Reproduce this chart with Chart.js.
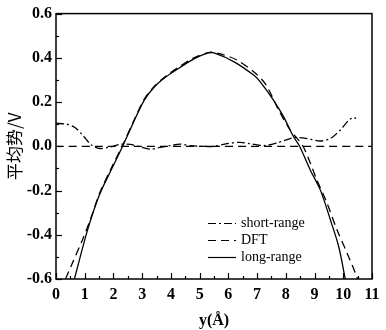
<!DOCTYPE html>
<html>
<head>
<meta charset="utf-8">
<script src="https://cdn.jsdelivr.net/npm/chart.js@4/dist/chart.umd.min.js"></script>
<style>
  html, body { margin: 0; padding: 0; background: #fff; }
  #wrap { width: 386px; height: 330px; }
</style>
</head>
<body>
<div id="wrap"><canvas id="c" width="386" height="330"></canvas></div>
<script>
// values
var shortX = [0, 0.37, 0.66, 0.95, 1.24, 1.53, 1.88, 2.23, 2.58, 2.93, 3.29, 3.62, 3.97, 4.32, 4.67, 5.02, 5.48, 5.95, 6.41, 6.76, 7.22, 7.69, 8.15, 8.39, 8.73, 9.2, 9.55, 9.9, 10.19, 10.36, 10.45];
var shortY = [0.104, 0.10, 0.085, 0.047, 0.005, -0.01, -0.003, 0.009, 0.009, -0.003, -0.013, -0.005, 0.003, 0.01, 0.003, 0, 0, 0.012, 0.018, 0.012, 0.003, 0.015, 0.035, 0.04, 0.035, 0.024, 0.035, 0.074, 0.118, 0.13, 0.126];

var dftX = [0.33, 0.52, 0.93, 1.2, 1.51, 1.92, 2.32, 2.73, 3.08, 3.43, 3.83, 4.3, 4.8, 5.35, 5.8, 6.3, 6.9, 7.3, 7.75, 8.15, 8.6, 9.08, 9.43, 9.78, 10.13, 10.42, 10.5];
var dftY = [-0.6, -0.543, -0.42, -0.33, -0.215, -0.1, 0.005, 0.122, 0.215, 0.272, 0.318, 0.36, 0.4, 0.425, 0.415, 0.39, 0.335, 0.28, 0.164, 0.074, 0, -0.152, -0.256, -0.377, -0.482, -0.572, -0.6];

var longX = [0.64, 1.1, 1.51, 1.92, 2.32, 2.73, 3.08, 3.43, 3.83, 4.3, 4.8, 5.3, 5.5, 6.2, 6.9, 7.11, 7.57, 7.92, 8.27, 8.48, 8.85, 9.2, 9.55, 9.84, 10.07];
var longY = [-0.6, -0.378, -0.22, -0.107, 0, 0.118, 0.21, 0.269, 0.314, 0.355, 0.395, 0.422, 0.422, 0.382, 0.32, 0.291, 0.209, 0.134, 0.043, 0, -0.107, -0.197, -0.332, -0.453, -0.6];

var zeroX = [0, 11];
var zeroY = [0, 0];

var yTicks = [-0.6, -0.4, -0.2, 0.0, 0.2, 0.4, 0.6];
var xTicks = [0, 1, 2, 3, 4, 5, 6, 7, 8, 9, 10, 11];

var legendNames = ['short-range', 'DFT', 'long-range'];

function pts(xs, ys) {
  return xs.map(function (x, i) { return { x: x, y: ys[i] }; });
}

var serif = '"Liberation Serif", "Times New Roman", serif';
var dashDot = [8, 3, 2, 3];
var dashed = [8, 5];

// inward major/minor ticks + full frame, like the original plot
var framePlugin = {
  id: 'frame',
  afterDraw: function (chart) {
    var ctx = chart.ctx, a = chart.chartArea;
    var xs = chart.scales.x, ys = chart.scales.y;
    ctx.save();
    ctx.strokeStyle = '#000';
    ctx.lineWidth = 1.2;
    var v, p;
    for (v = 0; v <= 11.001; v += 0.5) {
      p = Math.round(xs.getPixelForValue(v)) + 0.5;
      var len = (Math.abs(v - Math.round(v)) < 1e-6) ? 6 : 3;
      ctx.beginPath(); ctx.moveTo(p, a.bottom); ctx.lineTo(p, a.bottom - len); ctx.stroke();
    }
    for (v = -0.6; v <= 0.601; v += 0.1) {
      p = Math.round(ys.getPixelForValue(v)) + 0.5;
      var major = Math.abs(Math.round(v * 10) % 2) === 0;
      ctx.beginPath(); ctx.moveTo(a.left, p); ctx.lineTo(a.left + (major ? 6 : 3), p); ctx.stroke();
    }
    ctx.lineWidth = 1.5;
    ctx.strokeRect(a.left, a.top, a.right - a.left, a.bottom - a.top);

    // legend
    ctx.lineWidth = 1.2;
    ctx.font = '14px ' + serif;
    ctx.fillStyle = '#000';
    ctx.textBaseline = 'middle';
    var dashes = [dashDot, dashed, []];
    var rows = [223, 240, 257];
    legendNames.forEach(function (name, i) {
      ctx.setLineDash(dashes[i]);
      ctx.beginPath(); ctx.moveTo(208, rows[i] + 0.5); ctx.lineTo(236, rows[i] + 0.5); ctx.stroke();
      ctx.setLineDash([]);
      ctx.fillText(name, 241, rows[i]);
    });
    ctx.restore();
  }
};

function lineSet(label, data, dash) {
  return {
    label: label,
    data: data,
    borderColor: '#000',
    borderWidth: 1.3,
    borderDash: dash,
    pointRadius: 0,
    fill: false,
    tension: 0.3
  };
}

new Chart(document.getElementById('c').getContext('2d'), {
  type: 'line',
  data: {
    datasets: [
      lineSet('zero', pts(zeroX, zeroY), dashed),
      lineSet(legendNames[0], pts(shortX, shortY), dashDot),
      lineSet(legendNames[1], pts(dftX, dftY), dashed),
      lineSet(legendNames[2], pts(longX, longY), [])
    ]
  },
  options: {
    responsive: false,
    animation: false,
    layout: { padding: { left: 4, right: 14, top: 13, bottom: 0 } },
    plugins: { legend: { display: false }, tooltip: { enabled: false } },
    scales: {
      x: {
        type: 'linear',
        min: 0, max: 11,
        afterBuildTicks: function (s) { s.ticks = xTicks.map(function (v) { return { value: v }; }); },
        grid: { display: false, drawTicks: false },
        border: { display: false },
        ticks: {
          color: '#000',
          padding: 6,
          maxRotation: 0,
          autoSkip: false,
          font: { family: serif, size: 16, weight: 'bold' }
        },
        title: {
          display: true,
          text: 'y(Å)',
          color: '#000',
          padding: { top: 0, bottom: 0 },
          font: { family: serif, size: 16, weight: 'bold' }
        },
        afterFit: function (s) { s.height = 51; }
      },
      y: {
        min: -0.6, max: 0.6,
        afterBuildTicks: function (s) { s.ticks = yTicks.map(function (v) { return { value: v }; }); },
        grid: { display: false, drawTicks: false },
        border: { display: false },
        ticks: {
          color: '#000',
          padding: 4,
          autoSkip: false,
          font: { family: serif, size: 16, weight: 'bold' },
          callback: function (v) { return Number(v).toFixed(1); }
        },
        title: {
          display: true,
          text: '平均势/V',
          color: '#000',
          padding: { top: 0, bottom: 0 },
          font: { family: '"Noto Sans CJK SC", ' + serif, size: 17 }
        },
        afterFit: function (s) { s.width = 52; }
      }
    }
  },
  plugins: [framePlugin]
});
</script>
</body>
</html>
